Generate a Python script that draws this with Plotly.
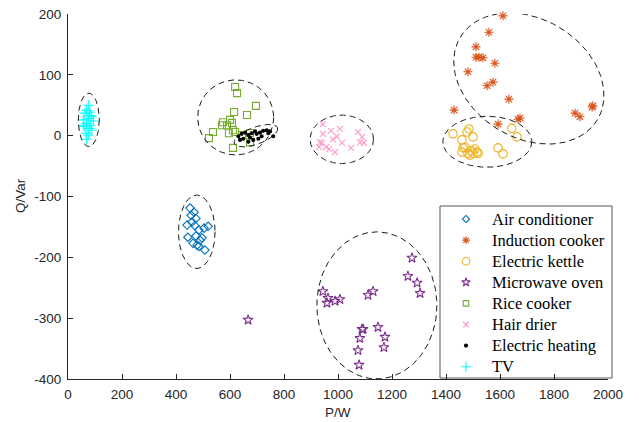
import numpy as np
import plotly.graph_objects as go

# ---------------- data ----------------
ac_p = [452, 467, 474, 441, 459, 485, 504, 519, 444, 474, 489, 463, 478, 507, 485, 456, 470, 496]
ac_q = [-119, -126, -136, -147, -142, -155, -152, -149, -167, -165, -172, -177, -180, -188, -182, -131, -148, -168]

ind_p = [1611, 1559, 1511, 1511, 1522, 1537, 1581, 1481, 1574, 1552, 1633, 1430, 1674, 1667, 1593, 1878, 1896, 1941, 1944]
ind_q = [197, 170, 146, 129, 129, 128, 119, 105, 88, 82, 60, 42, 29, 27, 19, 37, 31, 47, 49]

ket_p = [1426, 1485, 1478, 1500, 1459, 1470, 1463, 1459, 1493, 1507, 1515, 1500, 1489, 1519, 1644, 1663, 1593, 1611, 1481]
ket_q = [3, 11, 6, -2, -7, -19, -20, -27, -25, -22, -27, -29, -32, -29, 12, -2, -20, -30, -29]

mw_p = [944, 963, 959, 989, 1007, 1111, 1130, 1274, 1259, 1293, 1304, 1089, 1093, 1081, 1148, 1174, 1170, 1074, 1078, 667]
mw_q = [-256, -267, -275, -272, -269, -262, -256, -201, -231, -242, -259, -318, -318, -333, -315, -331, -348, -353, -377, -303]

rice_p = [619, 626, 696, 663, 615, 574, 600, 607, 570, 589, 537, 522, 611, 619, 596, 674, 644, 611, 674]
rice_q = [80, 70, 49, 34, 39, 22, 26, 21, 17, 17, 6, -4, 9, 6, 4, 4, 1, -20, -11]

hair_p = [944, 944, 974, 1007, 996, 981, 933, 941, 956, 989, 1015, 1048, 1074, 1089, 1081, 1096, 930, 967]
hair_q = [19, 3, 8, 11, -1, -6, -11, -12, -19, -27, -12, -20, 6, -2, -11, -12, -19, -22]

heat_p = [631, 643, 656, 668, 680, 693, 699, 711, 723, 736, 742, 748, 760, 649, 674, 686, 705, 668, 637, 717]
heat_q = [-1, 3, 5, 1, 4, 7, 3, 5, 8, 9, 4, 7, -1, -5, -3, -7, -5, -10, -7, -1]

tv_p = [75, 69, 81, 63, 88, 75, 57, 94, 69, 84, 63, 79, 88, 67, 75, 69, 81, 57]
tv_q = [50, 42, 39, 37, 31, 28, 26, 24, 20, 17, 15, 12, 9, 4, 1, -6, 33, 17]

names = ["Air conditioner", "Induction cooker", "Electric kettle", "Microwave oven",
         "Rice cooker", "Hair drier", "Electric heating", "TV"]

# cluster ellipses: centre (P, Q), semi-axes in screen px, rotation (deg, clockwise on screen)
ell_cp = [77, 477, 621, 696, 1014, 1144, 1707, 1553]
ell_cq = [26, -158, 30, 0, -6, -279, 94, -10]
ell_a = [10.5, 18.3, 38, 23, 31.7, 60, 80, 44.5]
ell_b = [26.7, 36.7, 37.5, 8.5, 24.2, 73.5, 59.5, 25.5]
ell_ang = [0, 0, 0, -20, 0, 0, 31, 0]

x_ticks = list(range(0, 2001, 200))
y_ticks = list(range(-400, 201, 100))

# ---------------- layout geometry ----------------
W, H = 639, 422
ML, MR, MT, MB = 68, 31, 14, 43
PW, PH = W - ML - MR, H - MT - MB
SX = PW / 2000.0
SY = PH / 600.0

def px2paper_x(px):
    return (px - ML) / PW

def px2paper_y(py):
    return 1 - (py - MT) / PH

fig = go.Figure()

styles = [
    ("diamond-open", "#0072BD", 6.5, 5.5),
    ("asterisk-open", "#D95319", 7.5, 6.5),
    ("circle-open", "#EDB120", 8.5, 7.5),
    ("star-open", "#7E2F8E", 7.5, 6.5),
    ("square-open", "#77AC30", 7, 5.5),
    ("x-thin-open", "#FF99CC", 6, 5.5),
    ("circle", "#000000", 3, 3),
    ("cross-thin-open", "#00FFFF", 7.5, 7),
]
xs_all = [ac_p, ind_p, ket_p, mw_p, rice_p, hair_p, heat_p, tv_p]
ys_all = [ac_q, ind_q, ket_q, mw_q, rice_q, hair_q, heat_q, tv_q]

for name, xs, ys, (sym, col, sz, lsz) in zip(names, xs_all, ys_all, styles):
    fig.add_trace(go.Scatter(
        x=xs, y=ys, mode="markers", name=name, showlegend=False, cliponaxis=False,
        marker=dict(symbol=sym, size=sz, color=col, line=dict(color=col, width=1.1)),
    ))

t = np.linspace(0, 2 * np.pi, 200)
for cp, cq, a, b, ang in zip(ell_cp, ell_cq, ell_a, ell_b, ell_ang):
    th = np.deg2rad(ang)
    dx = a * np.cos(t) * np.cos(th) - b * np.sin(t) * np.sin(th)
    dy = a * np.cos(t) * np.sin(th) + b * np.sin(t) * np.cos(th)
    fig.add_trace(go.Scatter(
        x=cp + dx / SX, y=cq - dy / SY, mode="lines", showlegend=False,
        hoverinfo="skip", line=dict(color="#1a1a1a", width=1, dash="6px,4px"),
    ))

# ---------------- custom legend (pixel-based overlay axes) ----------------
LEG_L, LEG_T, LEG_R, LEG_B = 440, 206, 612, 378
ROW0, ROWH = 219, 21.1
MARK_X, TEXT_X = 466, 490

fig.add_shape(type="rect", xref="paper", yref="paper",
              x0=px2paper_x(LEG_L), x1=px2paper_x(LEG_R),
              y0=px2paper_y(LEG_B), y1=px2paper_y(LEG_T),
              line=dict(color="#555555", width=1), fillcolor="white", layer="below")

for i, (name, (sym, col, sz, lsz)) in enumerate(zip(names, styles)):
    yy = ROW0 + i * ROWH
    fig.add_trace(go.Scatter(
        x=[MARK_X - ML], y=[yy - MT], xaxis="x2", yaxis="y2", mode="markers",
        showlegend=False, hoverinfo="skip",
        marker=dict(symbol=sym, size=lsz, color=col, line=dict(color=col, width=1.1)),
    ))
    fig.add_annotation(x=px2paper_x(TEXT_X), y=px2paper_y(yy), xref="paper", yref="paper",
                       text=name, showarrow=False, xanchor="left", yanchor="middle",
                       font=dict(family="Liberation Serif, Times New Roman", size=16.5, color="black"))

# axis titles
fig.add_annotation(x=px2paper_x(338), y=px2paper_y(412), xref="paper", yref="paper",
                   text="P/W", showarrow=False, xanchor="center", yanchor="middle",
                   font=dict(family="Liberation Sans, Arial", size=13.5, color="#262626"))
fig.add_annotation(x=px2paper_x(21), y=px2paper_y(196), xref="paper", yref="paper",
                   text="Q/Var", showarrow=False, textangle=-90, xanchor="center", yanchor="middle",
                   font=dict(family="Liberation Sans, Arial", size=13.5, color="#262626"))

axis_common = dict(
    showline=True, linecolor="#262626", linewidth=1, mirror=False, automargin=False,
    ticks="inside", ticklen=5, tickcolor="#262626", showgrid=False, zeroline=False,
    tickfont=dict(family="Liberation Sans, Arial", size=13.5, color="#262626"),
)

fig.update_layout(
    width=W, height=H,
    margin=dict(l=ML, r=MR, t=MT, b=MB, autoexpand=False),
    paper_bgcolor="white", plot_bgcolor="white",
    xaxis=dict(range=[0, 2000], tickvals=x_ticks, ticktext=[str(v) for v in x_ticks],
               ticklabelstandoff=3, **axis_common),
    yaxis=dict(range=[-400, 200], tickvals=y_ticks, ticktext=[str(v) for v in y_ticks],
               ticklabelstandoff=3, **axis_common),
    xaxis2=dict(domain=[0, 1], range=[0, PW], overlaying="x", visible=False,
                fixedrange=True, automargin=False),
    yaxis2=dict(domain=[0, 1], range=[PH, 0], overlaying="y", visible=False,
                fixedrange=True, automargin=False),
    showlegend=False,
)

fig.write_html("out.html")
